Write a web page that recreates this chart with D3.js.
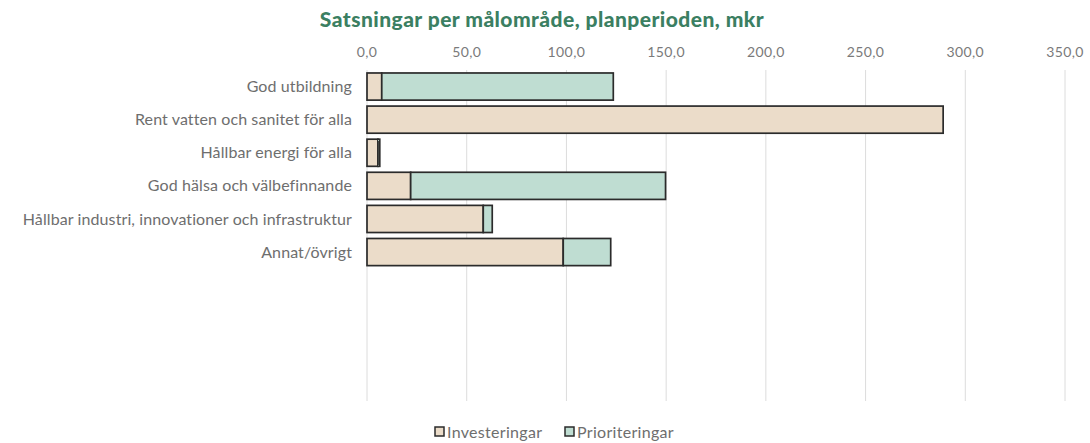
<!DOCTYPE html>
<html>
<head>
<meta charset="utf-8">
<script src="https://cdn.jsdelivr.net/npm/d3@7"></script>
<style>
  body { margin: 0; background: #fff; }
  text { font-family: Lato, "Open Sans", sans-serif; }
</style>
</head>
<body>
<div id="chart"></div>
<script>
// Data
const categories = [
  'God utbildning',
  'Rent vatten och sanitet för alla',
  'Hållbar energi för alla',
  'God hälsa och välbefinnande',
  'Hållbar industri, innovationer och infrastruktur',
  'Annat/övrigt'
];
const investeringar = [7.4, 288.9, 5.5, 21.9, 58.3, 98.4];
const prioriteringar = [116.1, 0, 0.9, 127.8, 4.5, 23.8];
const seriesNames = ['Investeringar', 'Prioriteringar'];
const tickValues = [0, 50, 100, 150, 200, 250, 300, 350];

// layout
const width = 1090, height = 443;
const margin = { top: 70, right: 25, bottom: 42, left: 367 };
const slots = 10; // the plot keeps room for 10 rows, only 6 are used
const colors = ['#ebdcc9', '#bfddd2'];

const svg = d3.select('#chart')
  .append('svg')
  .attr('width', width)
  .attr('height', height);

const x = d3.scaleLinear()
  .domain([0, 350])
  .range([margin.left, 1065]);

const y = d3.scaleBand()
  .domain(d3.range(slots))
  .range([margin.top, height - margin.bottom])
  .paddingInner(0.18)
  .paddingOuter(0.09);

//Title
svg.append('text')
  .attr('x', 542)
  .attr('y', 27)
  .attr('text-anchor', 'middle')
  .attr('fill', '#3b7f62')
  .attr('font-size', 21)
  .attr('font-weight', 900)
  .attr('letter-spacing', 0.45)
  .text('Satsningar per målområde, planperioden, mkr');

//Gridlines
svg.append('g')
  .selectAll('line')
  .data(tickValues)
  .join('line')
  .attr('x1', d => x(d))
  .attr('x2', d => x(d))
  .attr('y1', margin.top)
  .attr('y2', height - margin.bottom)
  .attr('stroke', '#dcdcdc')
  .attr('stroke-width', 1);

//Top axis labels
svg.append('g')
  .selectAll('text')
  .data(tickValues)
  .join('text')
  .attr('x', d => x(d))
  .attr('y', 57)
  .attr('text-anchor', 'middle')
  .attr('fill', '#7a7a7a')
  .attr('font-size', 14)
  .attr('letter-spacing', 0.4)
  .text(d => d3.format('.1f')(d).replace('.', ','));

//Category labels
svg.append('g')
  .selectAll('text')
  .data(categories)
  .join('text')
  .attr('x', 352)
  .attr('y', (d, i) => y(i) + y.bandwidth() / 2)
  .attr('dy', '0.35em')
  .attr('text-anchor', 'end')
  .attr('fill', '#6e6e6e')
  .attr('font-size', 16)
  .attr('letter-spacing', 0.1)
  .text(d => d);

//Stacked bars
const rows = categories.map((c, i) => ({ name: c, i, values: [investeringar[i], prioriteringar[i]] }));
const stack = d3.stack().keys([0, 1]).value((d, k) => d.values[k]);
const layers = stack(rows);

svg.append('g')
  .selectAll('g')
  .data(layers)
  .join('g')
  .attr('fill', (d, k) => colors[k])
  .selectAll('rect')
  .data(d => d.filter(s => s[1] > s[0]))
  .join('rect')
  .attr('x', s => x(s[0]))
  .attr('y', s => y(s.data.i))
  .attr('width', s => x(s[1]) - x(s[0]))
  .attr('height', y.bandwidth())
  .attr('stroke', '#2b2b2b')
  .attr('stroke-width', 1.7);

//Legend
const legend = svg.append('g');
const legendX = [435, 565];
seriesNames.forEach((name, k) => {
  legend.append('rect')
    .attr('x', legendX[k])
    .attr('y', 427)
    .attr('width', 9)
    .attr('height', 9)
    .attr('fill', colors[k])
    .attr('stroke', '#2b2b2b')
    .attr('stroke-width', 1.5);
  legend.append('text')
    .attr('x', legendX[k] + 12)
    .attr('y', 432)
    .attr('dy', '0.35em')
    .attr('fill', '#6e6e6e')
    .attr('font-size', 16)
    .attr('letter-spacing', 0.3)
    .text(name);
});
</script>
</body>
</html>
